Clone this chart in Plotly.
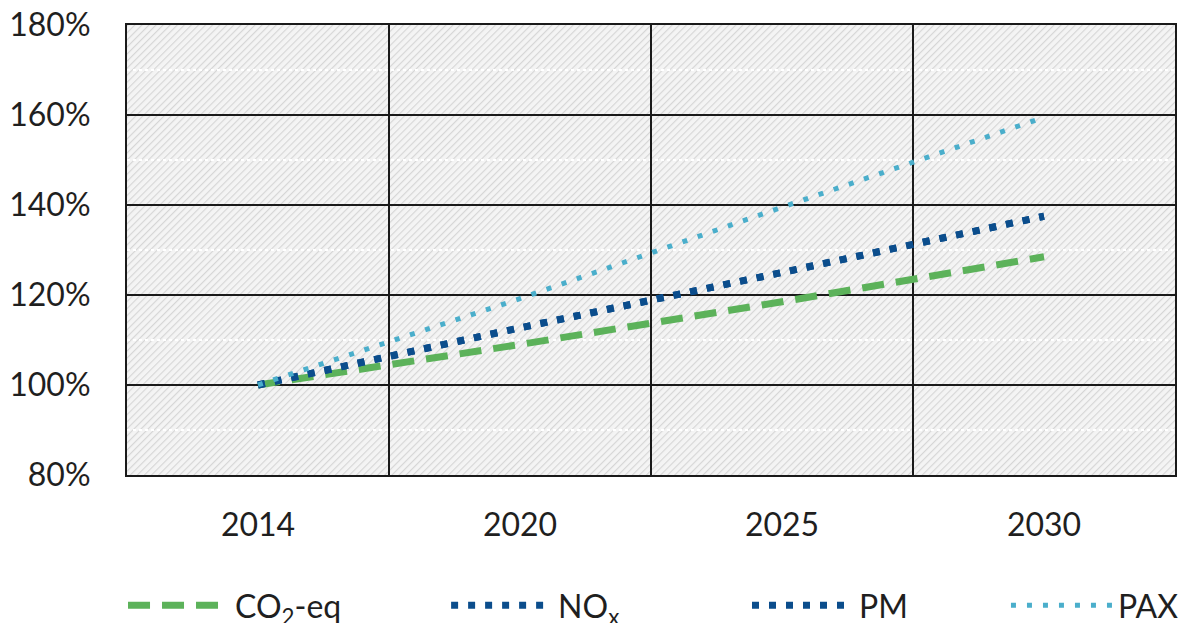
import base64
import plotly.graph_objects as go

years = ["2014", "2020", "2025", "2030"]
co2_eq = [100, 109, 118.5, 128.5]
nox = [100, 112.7, 125, 137.5]
pm = [100, 112.7, 125, 137.5]
pax = [100, 119.2, 139.5, 159.5]

y_ticks = [80, 100, 120, 140, 160, 180]
y_tick_labels = [f"{v}%" for v in y_ticks]

FONT = "Lato"
TXT = "#1f1f1f"
FS = 32

W, H = 1181, 615  # page body adds an 8px offset
ML, MR, MT, MB = 119, 14, 17, 148

svg = ('<svg xmlns="http://www.w3.org/2000/svg" width="1048" height="450" preserveAspectRatio="none">'
       '<defs><pattern id="h" width="5" height="5" patternUnits="userSpaceOnUse" patternTransform="rotate(45)">'
       '<rect width="5" height="5" fill="#f4f4f4"/>'
       '<line x1="0" y1="0" x2="0" y2="5" stroke="#d6d6d6" stroke-width="2.3"/></pattern></defs>'
       '<rect width="100%" height="100%" fill="url(#h)"/></svg>')
hatch = "data:image/svg+xml;base64," + base64.b64encode(svg.encode()).decode()

fig = go.Figure()
fig.add_trace(go.Scatter(x=years, y=co2_eq, name="CO<sub>2</sub>-eq", mode="lines", legend="legend",
                         line=dict(color="#5cb25a", width=7, dash="22px,12px")))
fig.add_trace(go.Scatter(x=years, y=nox, name="NO<sub>x</sub>", mode="lines", legend="legend2",
                         line=dict(color="#0b4d8c", width=7, dash="7px,10px")))
fig.add_trace(go.Scatter(x=years, y=pm, name="PM", mode="lines", legend="legend3",
                         line=dict(color="#0b4d8c", width=7, dash="7px,10px")))
fig.add_trace(go.Scatter(x=years, y=pax, name="PAX", mode="lines", legend="legend4",
                         line=dict(color="#4aaecb", width=5, dash="5px,11px")))

def leg(x):
    return dict(orientation="h", x=x, xanchor="left", y=-0.229, yanchor="top",
                font=dict(family=FONT, size=FS, color=TXT), itemwidth=102,
                bgcolor="rgba(0,0,0,0)")

fig.update_layout(
    width=W, height=H,
    margin=dict(l=ML, r=MR, t=MT, b=MB, autoexpand=False),
    paper_bgcolor="white",
    plot_bgcolor="rgba(0,0,0,0)",
    font=dict(family=FONT, size=FS, color=TXT),
    showlegend=True,
    legend=leg(-0.0038),
    legend2=leg(0.3045),
    legend3=leg(0.5916),
    legend4=leg(0.8387),
    images=[dict(source=hatch, xref="paper", yref="paper", x=0, y=1, sizex=1, sizey=1,
                 sizing="stretch", layer="below")],
)

fig.update_xaxes(
    type="category", range=[-0.5, 3.5],
    tickson="boundaries", showgrid=True, gridcolor="#1a1a1a", gridwidth=2,
    showline=True, linecolor="#1a1a1a", linewidth=2, mirror=True,
    ticks="", ticklabelstandoff=21,
    tickfont=dict(family=FONT, size=FS, color=TXT),
)
fig.update_yaxes(
    range=[80, 180], tickvals=y_ticks, ticktext=y_tick_labels,
    showgrid=True, gridcolor="#1a1a1a", gridwidth=2,
    minor=dict(dtick=10, showgrid=True, gridcolor="white", gridwidth=2, griddash="dot"),
    showline=True, linecolor="#1a1a1a", linewidth=2, mirror=True,
    zeroline=False, ticks="", ticklabelstandoff=28, ticklabeloverflow="allow",
    tickfont=dict(family=FONT, size=FS, color=TXT),
)

fig.write_html("out.html")
